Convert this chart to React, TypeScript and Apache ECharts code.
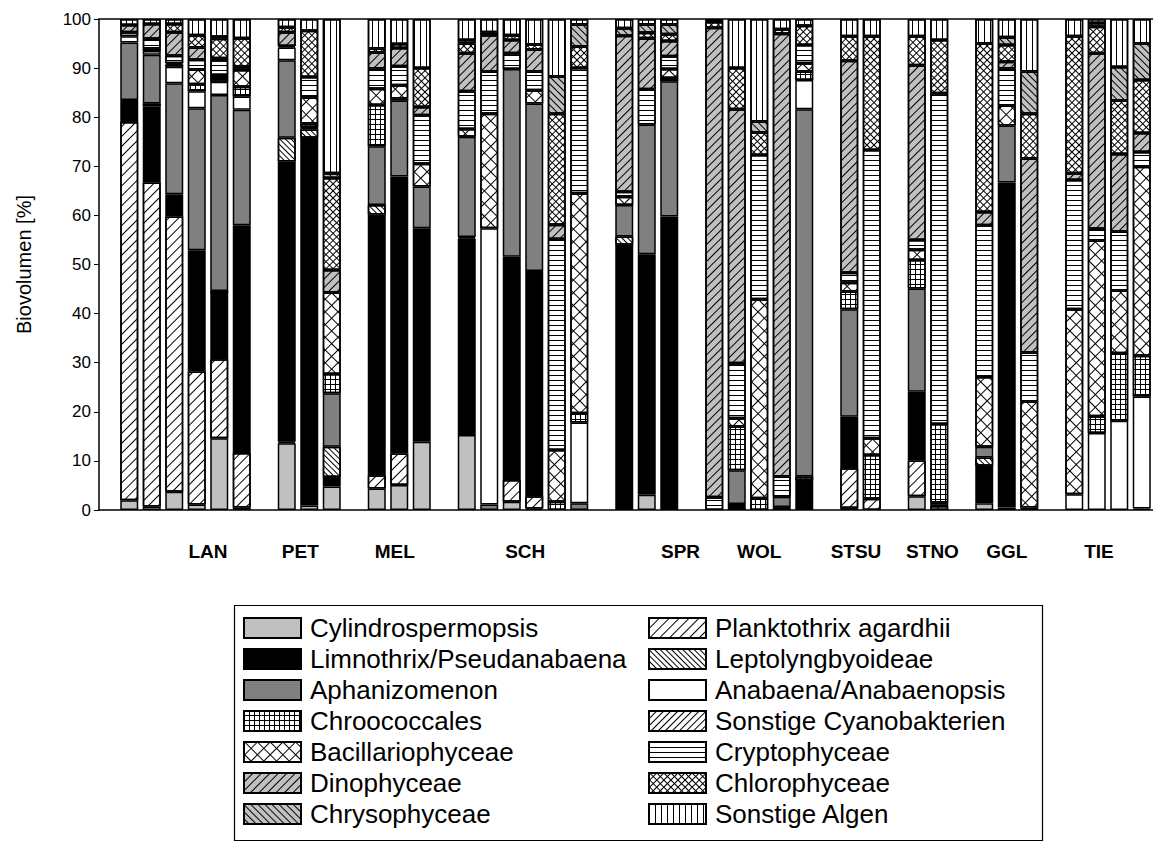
import React, { useEffect, useRef } from 'react';
import * as echarts from 'echarts';

// Sampling sites and the number of samples (bars) per site
const groups = ['LAN', 'PET', 'MEL', 'SCH', 'SPR', 'WOL', 'STSU', 'STNO', 'GGL', 'TIE'];
const groupSizes = [6, 3, 3, 6, 3, 5, 2, 2, 3, 4];
// Where the site names sit on the numeric x axis (slot index + 2)
const groupLabelX = [5.5, 9.6, 13.8, 19.6, 26.5, 30.0, 34.3, 37.7, 41.0, 45.1];

const xTicks = [5, 10, 15, 20, 25, 30, 35, 40, 45];

// Taxa in stacking order (bottom to top)
const taxa = [
  'Cylindrospermopsis',
  'Planktothrix agardhii',
  'Limnothrix/Pseudanabaena',
  'Leptolyngbyoideae',
  'Aphanizomenon',
  'Anabaena/Anabaenopsis',
  'Chroococcales',
  'Sonstige Cyanobakterien',
  'Bacillariophyceae',
  'Cryptophyceae',
  'Dinophyceae',
  'Chlorophyceae',
  'Chrysophyceae',
  'Sonstige Algen',
];

// Biovolume shares [%] per sample, in site order:
// LAN(6) | PET(3) | MEL(3) | SCH(6) | SPR(3) | WOL(5) | STSU(2) | STNO(2) | GGL(3) | TIE(4)
const cylindrospermopsis = [2, 0.7, 3.7, 1.1, 14.6, 0.5, 13.6, 0.9, 4.8, 4.4, 5.1, 13.9, 15.3, 0, 1.7, 0.3, 0, 0, 0, 3.1, 0, 0, 0, 0, 0, 0, 0.4, 0, 2.8, 0, 1.4, 0.5, 0, 0, 0, 0, 0];
const planktothrix = [77, 66, 56.1, 27.1, 16.1, 11.1, 0.3, 0, 0, 2.7, 6.4, 0, 0, 0, 4.4, 2.5, 0, 0, 0, 0, 0, 0, 0, 0, 0, 0, 8.1, 2.3, 7.3, 0.8, 0, 0, 0, 0, 0, 0, 0];
const limnothrix = [4.5, 15.5, 4.5, 24.7, 13.5, 46.4, 57.1, 74.9, 1.9, 53.1, 56.4, 43.5, 40.0, 0, 45.5, 45.9, 0, 0, 54.0, 49.0, 59.8, 0, 1.2, 0, 0.6, 6.1, 10.5, 0, 14.0, 0, 7.6, 66.2, 0.5, 0, 0, 0, 0];
const leptolyngbyoideae = [0, 0.6, 0, 0, 0.4, 0, 4.8, 1.7, 6.2, 1.9, 0, 0, 0.3, 0, 0, 0, 0, 0, 1.7, 0, 0, 0, 0, 0, 0, 0.7, 0, 0, 0, 0, 1.7, 0, 0, 0, 0, 0, 0];
const aphanizomenon = [11.7, 9.9, 22.6, 28.9, 39.9, 23.5, 15.8, 0.5, 10.9, 12.0, 15.5, 8.5, 20.4, 1.1, 38.2, 34.1, 0, 1.4, 6.4, 26.4, 27.5, 0, 6.9, 0, 2.1, 74.8, 21.9, 0, 21.0, 0.7, 2.2, 11.6, 0, 0, 0, 0, 0.3];
const anabaena = [1.3, 0.8, 3.4, 3.5, 2.7, 2.7, 2.6, 0, 0, 0, 0, 0, 0, 56.3, 0, 0, 0, 16.4, 0, 0, 0, 0, 0, 0, 0, 6.0, 0, 0, 0, 0, 0, 0, 0, 3.2, 15.7, 18.2, 22.8];
const chroococcales = [0, 0, 0.4, 1.4, 0.8, 2.0, 0.3, 0.7, 3.9, 8.4, 0.4, 0, 0, 0, 0, 0, 1.7, 1.9, 0, 0, 0.7, 0, 8.9, 2.4, 0, 1.7, 3.6, 8.9, 5.8, 16.0, 0, 0, 0, 0, 3.4, 13.7, 8.3];
const sonstigeCyano = [0, 0, 0, 0, 0, 0, 0, 0, 0, 0, 0, 0, 0, 0, 0, 0, 0, 0, 0, 0, 0, 0, 0, 0, 0, 0, 0, 0, 0, 0, 0, 0, 0, 0, 0, 0, 0];
const bacillariophyceae = [0, 0.5, 0.3, 3.0, 0.6, 3.4, 0, 5.3, 16.6, 3.3, 2.7, 4.6, 1.6, 23.3, 0, 2.7, 10.5, 44.8, 1.7, 0, 1.8, 0, 1.7, 40.5, 0, 1.7, 1.8, 3.4, 2.1, 0, 14.2, 4.1, 21.6, 37.7, 35.8, 12.8, 38.5];
const cryptophyceae = [0.8, 2, 1.5, 2.0, 3.0, 0.7, 0, 4.2, 0, 4.1, 3.9, 9.9, 7.7, 8.6, 3.2, 3.8, 43.0, 25.5, 1.0, 7.2, 2.6, 2.6, 11.2, 29.4, 4.1, 3.7, 2.0, 58.7, 2.0, 67.4, 30.9, 7.5, 10.0, 26.3, 2.4, 12.0, 3.0];
const dinophyceae = [1.5, 3, 4.8, 2.5, 0.4, 0, 2.8, 0, 4.6, 3.3, 3.7, 1.7, 7.7, 7.4, 2.7, 4.5, 2.9, 0, 31.8, 10.4, 3.1, 95.6, 51.7, 0, 90.2, 0, 43.2, 0, 35.6, 0, 2.7, 1.4, 39.5, 1.4, 35.7, 15.8, 3.9];
const chlorophyceae = [0, 0, 1.7, 2.5, 4.0, 5.8, 1.0, 9.4, 18.7, 0.8, 0.8, 7.9, 2.0, 0.6, 1.0, 1.0, 22.6, 4.4, 0, 1.1, 1.4, 1.2, 8.4, 4.6, 0.9, 3.9, 5.0, 23.2, 5.9, 10.8, 34.3, 3.4, 9.1, 27.9, 5.4, 10.9, 10.8];
const chrysophyceae = [0, 0, 0, 0, 0.4, 0, 0, 0, 1.0, 0, 0, 0, 0.7, 0, 0, 0, 7.6, 4.5, 1.5, 1.7, 2.0, 0, 0, 2.2, 0, 0, 0, 0, 0, 0, 0, 1.6, 8.6, 0, 0.8, 6.8, 7.4];
const sonstigeAlgen = [1.2, 1, 1.0, 3.3, 3.6, 3.9, 1.7, 2.4, 31.4, 6.0, 5.1, 10.0, 4.3, 2.7, 3.3, 5.2, 11.7, 1.1, 1.9, 1.1, 1.1, 0.6, 10.0, 20.9, 2.1, 1.4, 3.5, 3.5, 3.5, 4.3, 5.0, 3.7, 10.7, 3.5, 0.8, 9.8, 5.0];

const seriesValues = [
  cylindrospermopsis, planktothrix, limnothrix, leptolyngbyoideae, aphanizomenon, anabaena,
  chroococcales, sonstigeCyano, bacillariophyceae, cryptophyceae, dinophyceae, chlorophyceae,
  chrysophyceae, sonstigeAlgen,
];

const FONT = "'Liberation Sans', Arial, Helvetica, sans-serif";
const WHITE = '#ffffff';
const LIGHT = '#c0c0c0';
const DARK = '#808080';
const BLACK = '#000000';
const SLASH = -Math.PI / 4;
const BACKSLASH = Math.PI / 4;

// Parallel hatch lines (horizontal before rotation)
const hatch = (gap: number, rotation: number) => ({
  symbol: 'rect', symbolSize: 1, color: BLACK,
  dashArrayX: [1, 0], dashArrayY: [1, gap], rotation,
});
// Vertical lines
const vlines = (gap: number) => ({
  symbol: 'rect', symbolSize: 1, color: BLACK,
  dashArrayX: [1, gap], dashArrayY: [1, 0], rotation: 0,
});
// Square mesh of lines, optionally rotated into a diagonal cross-hatch
const mesh = (n: number, rotation: number) => {
  const rows: number[][] = [[n, 0]];
  for (let i = 1; i < n; i++) rows.push([1, n - 1]);
  return { symbol: 'rect', symbolSize: 1, color: BLACK, dashArrayX: rows, dashArrayY: [1, 0], rotation };
};

const taxonStyles: any[] = [
  { color: LIGHT },
  { color: WHITE, decal: hatch(6, SLASH) },
  { color: BLACK },
  { color: WHITE, decal: hatch(3, BACKSLASH) },
  { color: DARK },
  { color: WHITE },
  { color: WHITE, decal: mesh(5, 0) },
  { color: WHITE, decal: hatch(4, SLASH) },
  { color: WHITE, decal: mesh(9, Math.PI / 4) },
  { color: WHITE, decal: hatch(4, 0) },
  { color: LIGHT, decal: hatch(5, SLASH) },
  { color: WHITE, decal: mesh(5, Math.PI / 4) },
  { color: LIGHT, decal: hatch(4, BACKSLASH) },
  { color: WHITE, decal: vlines(5) },
];

// Slots along the bar axis: slot -1 is a leading blank, sites are separated by one blank slot
const SLOT_COUNT = 47;
const slotNames = Array.from({ length: SLOT_COUNT }, (_, i) => String(i - 1));
const barSlots: number[] = [];
{
  let slot = 0;
  groupSizes.forEach((n) => {
    for (let i = 0; i < n; i++) barSlots.push(slot++);
    slot++;
  });
}
const toSlotData = (values: number[]) => {
  const out: (number | string)[] = new Array(SLOT_COUNT).fill('-');
  barSlots.forEach((slot, i) => {
    out[slot + 1] = values[i] === 0 ? '-' : values[i];
  });
  return out;
};

// Numeric frame axis: slot k sits at k + 2
const X_MIN = 0.6556;
const X_MAX = 47.5;

const leftColumn = taxa.filter((_, i) => i % 2 === 0);
const rightColumn = taxa.filter((_, i) => i % 2 === 1);

const legendCommon = {
  orient: 'vertical',
  icon: 'rect',
  itemWidth: 57,
  itemHeight: 20,
  itemGap: 5,
  selectedMode: false,
  textStyle: { fontFamily: FONT, fontSize: 26, lineHeight: 26, color: BLACK, padding: [0, 0, 0, 4] },
};

const option: any = {
  animation: false,
  backgroundColor: WHITE,
  grid: [
    // bars
    { left: 95.5, top: 19, width: 1057.5, height: 491, containLabel: false },
    // frame, ticks and labels
    { left: 99, top: 19, width: 1054, height: 491, containLabel: false },
  ],
  xAxis: [
    {
      type: 'category', gridIndex: 0, data: slotNames, boundaryGap: true,
      axisLine: { show: false }, axisTick: { show: false }, axisLabel: { show: false },
      splitLine: { show: false },
    },
    {
      type: 'value', gridIndex: 1, min: X_MIN, max: X_MAX, position: 'bottom',
      axisLine: { show: true, onZero: false, lineStyle: { color: BLACK, width: 1.5 } },
      axisTick: { show: true, inside: true, length: 4, customValues: xTicks, lineStyle: { color: BLACK } },
      axisLabel: { show: false },
      splitLine: { show: false },
    },
    {
      type: 'value', gridIndex: 1, min: X_MIN, max: X_MAX, position: 'top',
      axisLine: { show: true, onZero: false, lineStyle: { color: BLACK, width: 1.5 } },
      axisTick: { show: true, inside: true, length: 4, customValues: xTicks, lineStyle: { color: BLACK } },
      axisLabel: { show: false },
      splitLine: { show: false },
    },
    {
      type: 'value', gridIndex: 1, min: X_MIN, max: X_MAX, position: 'bottom',
      axisLine: { show: false },
      axisTick: { show: false },
      splitLine: { show: false },
      axisLabel: {
        show: true,
        customValues: groupLabelX,
        formatter: (v: number) => groups[groupLabelX.indexOf(v)] ?? '',
        margin: 32,
        fontFamily: FONT, fontSize: 19, fontWeight: 'bold', color: BLACK,
      },
    },
  ],
  yAxis: [
    {
      type: 'value', gridIndex: 0, min: 0, max: 100,
      axisLine: { show: false }, axisTick: { show: false }, axisLabel: { show: false },
      splitLine: { show: false },
    },
    {
      type: 'value', gridIndex: 1, min: 0, max: 100, interval: 10,
      name: 'Biovolumen [%]',
      nameLocation: 'middle',
      nameGap: 65,
      nameTextStyle: { fontFamily: FONT, fontSize: 20, color: BLACK },
      axisLine: { show: true, onZero: false, lineStyle: { color: BLACK, width: 1.5 } },
      axisTick: { show: true, inside: false, length: 5, lineStyle: { color: BLACK } },
      axisLabel: { margin: 8, fontFamily: FONT, fontSize: 17, color: BLACK },
      splitLine: { show: false },
    },
  ],
  legend: [
    { ...legendCommon, data: leftColumn, left: 238, top: 610 },
    { ...legendCommon, data: rightColumn, left: 643, top: 610 },
  ],
  graphic: [
    {
      type: 'rect', left: 232, top: 603,
      shape: { width: 808, height: 235 },
      style: { fill: 'none', stroke: BLACK, lineWidth: 1.2 },
      silent: true,
    },
  ],
  series: taxa.map((name, s) => ({
    name,
    type: 'bar',
    stack: 'biovolume',
    xAxisIndex: 0,
    yAxisIndex: 0,
    barWidth: 18,
    itemStyle: { ...taxonStyles[s], borderColor: BLACK, borderWidth: 1.5 },
    emphasis: { disabled: true },
    data: toSlotData(seriesValues[s]),
  })),
};

export default function App() {
  const ref = useRef<HTMLDivElement>(null);
  useEffect(() => {
    document.body.style.margin = '0';
    const chart = echarts.init(ref.current as HTMLDivElement, null, { renderer: 'svg' });
    chart.setOption(option);
    return () => chart.dispose();
  }, []);
  return <div ref={ref} style={{ width: 1153, height: 856 }} />;
}
